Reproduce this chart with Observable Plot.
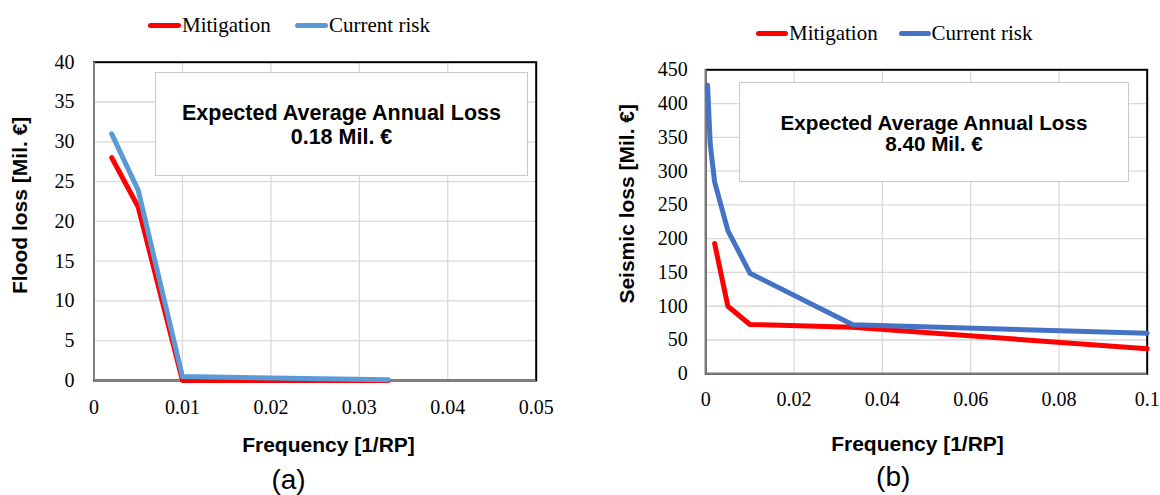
<!DOCTYPE html>
<html>
<head>
<meta charset="utf-8">
<script src="https://cdn.jsdelivr.net/npm/d3@7"></script>
<script src="https://cdn.jsdelivr.net/npm/@observablehq/plot@0.6"></script>
<style>
  body { margin: 0; background: #fff; }
  #root { position: relative; width: 1160px; height: 495px; display: flex; overflow: hidden; background: #fff; }
  .col { position: relative; width: 580px; height: 495px; }
  .legend { position: relative; width: 580px; font-family: "Liberation Serif", "Times New Roman", serif; font-size: 21px; color: #000; }
  .item { position: absolute; display: flex; align-items: center; white-space: nowrap; height: 24px; line-height: 24px; }
  .sw { display: inline-block; height: 5px; border-radius: 3px; margin-right: 1px; }
  .box { position: absolute; background: #fff; border: 1px solid #c9c9c9; font-family: "Liberation Sans", Arial, sans-serif; font-weight: bold; text-align: center; box-sizing: border-box; color: #000; }
  svg { display: block; }
</style>
</head>
<body>
<div id="root">
  <div class="col" id="colA">
    <div class="legend" id="legA" style="height:45px"></div>
  </div>
  <div class="col" id="colB">
    <div class="legend" id="legB" style="height:50px"></div>
  </div>
</div>
<script>
// ---------- data ----------
const seriesNames = ["Mitigation", "Current risk"];

// (a) flood
const floodFreq = [0.002, 0.005, 0.01, 0.0333];
const floodMitigation = [28, 21.8, 0, 0];
const floodCurrent = [31, 23.9, 0.5, 0.1];
const floodXTicks = [0, 0.01, 0.02, 0.03, 0.04, 0.05];
const floodYTicks = [0, 5, 10, 15, 20, 25, 30, 35, 40];
const floodEAL = "0.18 Mil. €";

// (b) seismic
const seismicFreqMitigation = [0.002, 0.005, 0.01, 0.0333, 0.1];
const seismicMitigation = [193, 100, 73, 69, 37];
const seismicFreqCurrent = [0.0004, 0.001, 0.002, 0.005, 0.01, 0.0333, 0.1];
const seismicCurrent = [427, 340, 284, 212, 149, 72.5, 60];
const seismicXTicks = [0, 0.02, 0.04, 0.06, 0.08, 0.1];
const seismicYTicks = [0, 50, 100, 150, 200, 250, 300, 350, 400, 450];
const seismicEAL = "8.40 Mil. €";

const boxTitle = "Expected Average Annual Loss";

// ---------- tables ----------
const floodRows = [
  ...floodFreq.map((f, i) => ({series: seriesNames[0], freq: f, loss: floodMitigation[i]})),
  ...floodFreq.map((f, i) => ({series: seriesNames[1], freq: f, loss: floodCurrent[i]}))
];
const seismicRows = [
  ...seismicFreqMitigation.map((f, i) => ({series: seriesNames[0], freq: f, loss: seismicMitigation[i]})),
  ...seismicFreqCurrent.map((f, i) => ({series: seriesNames[1], freq: f, loss: seismicCurrent[i]}))
];

const SERIF = '"Liberation Serif", "Times New Roman", serif';
const SANS = '"Liberation Sans", Arial, sans-serif';

function makeChart(o) {
  const fw = o.width - o.marginLeft - o.marginRight;
  const frameCx = o.marginLeft + fw / 2;
  return Plot.plot({
    width: o.width,
    height: o.height,
    marginLeft: o.marginLeft,
    marginRight: o.marginRight,
    marginTop: o.marginTop,
    marginBottom: o.marginBottom,
    // serif is inherited by the tick labels (which set no font family of their own)
    style: {background: "transparent", fontFamily: SERIF, fontSize: "20px", color: "#000", overflow: "visible"},
    x: {domain: o.xDomain, axis: null},
    y: {domain: o.yDomain, axis: null},
    color: {domain: seriesNames, range: o.colors},
    marks: [
      Plot.gridX(o.xTicks, {stroke: "#d9d9d9", strokeOpacity: 1, strokeWidth: 1.3}),
      Plot.gridY(o.yTicks, {stroke: "#d9d9d9", strokeOpacity: 1, strokeWidth: 1.3}),
      // tick labels (no tick marks)
      Plot.text(o.xTicks, {x: d => d, text: d => String(d), frameAnchor: "bottom", lineAnchor: "top",
        textAnchor: "middle", dy: o.xPad, fontSize: 20, fill: "#000"}),
      Plot.text(o.yTicks, {y: d => d, text: d => String(d), frameAnchor: "left", lineAnchor: "middle",
        textAnchor: "end", dx: -o.yPad, fontSize: 20, fill: "#000"}),
      Plot.frame({stroke: "#000", strokeWidth: 2}),
      Plot.ruleY([o.yDomain[0]], {stroke: "#808080", strokeWidth: 2}),
      Plot.ruleX([o.xDomain[0]], {stroke: "#808080", strokeWidth: 2}),
      Plot.line(o.rows, {x: "freq", y: "loss", z: "series", stroke: "series", strokeWidth: 5,
        strokeLinejoin: "round", strokeLinecap: "round"}),
      Plot.text([o.yTitle], {frameAnchor: "left", rotate: -90, textAnchor: "middle", lineAnchor: "middle",
        dx: o.yTitleX - o.marginLeft, dy: o.yTitleDy,
        fontSize: 21, fontWeight: "bold", fontFamily: SANS, fill: "#000"}),
      Plot.text([o.xTitle], {frameAnchor: "bottom", textAnchor: "middle", lineAnchor: "middle",
        dx: o.xTitleCx - frameCx, dy: o.xTitleDy,
        fontSize: 21, fontWeight: "bold", fontFamily: SANS, fill: "#000"}),
      Plot.text([o.caption], {frameAnchor: "bottom", textAnchor: "middle", lineAnchor: "top",
        dx: o.capCx - frameCx, dy: o.capDy,
        fontSize: 28, fontFamily: SANS, fill: "#000"})
    ]
  });
}

function legend(el, items) {
  for (const it of items) {
    const d = document.createElement("div");
    d.className = "item";
    d.style.left = it.left + "px";
    d.style.top = it.top + "px";
    const s = document.createElement("span");
    s.className = "sw";
    s.style.width = it.sw + "px";
    s.style.background = it.color;
    d.appendChild(s);
    d.appendChild(document.createTextNode(it.name));
    el.appendChild(d);
  }
}

function box(col, o) {
  const b = document.createElement("div");
  b.className = "box";
  b.style.left = o.left + "px";
  b.style.top = o.top + "px";
  b.style.width = o.width + "px";
  b.style.height = o.height + "px";
  b.style.fontSize = o.fontSize + "px";
  b.style.lineHeight = o.lineHeight + "px";
  b.style.paddingTop = o.pad + "px";
  b.innerHTML = o.lines.map(t => `<div>${t}</div>`).join("");
  col.appendChild(b);
}

// ---------- chart (a) ----------
const colA = document.getElementById("colA");
legend(document.getElementById("legA"), [
  {name: seriesNames[0], color: "#ff0000", left: 148, top: 13, sw: 33},
  {name: seriesNames[1], color: "#5b9bd5", left: 295, top: 13, sw: 33}
]);
colA.appendChild(makeChart({
  width: 580, height: 450,
  marginLeft: 93.5, marginRight: 44.3, marginTop: 16.7, marginBottom: 115,
  xDomain: [0, 0.05], yDomain: [0, 40],
  xTicks: floodXTicks, yTicks: floodYTicks,
  xPad: 19, yPad: 19.5,
  colors: ["#ff0000", "#5b9bd5"],
  rows: floodRows,
  yTitle: "Flood loss [Mil. €]", yTitleX: 20, yTitleDy: -16,
  xTitle: "Frequency [1/RP]", xTitleCx: 328, xTitleDy: 65,
  caption: "(a)", capCx: 288, capDy: 88.5
}));
box(colA, {left: 155, top: 71.7, width: 373, height: 104.3, fontSize: 21.5, lineHeight: 24, pad: 28,
  lines: [boxTitle, floodEAL]});

// ---------- chart (b) ----------
const colB = document.getElementById("colB");
legend(document.getElementById("legB"), [
  {name: seriesNames[0], color: "#ff0000", left: 176, top: 21.3, sw: 32},
  {name: seriesNames[1], color: "#4472c4", left: 318.5, top: 21.3, sw: 32}
]);
colB.appendChild(makeChart({
  width: 580, height: 445,
  marginLeft: 125.3, marginRight: 13.3, marginTop: 19.3, marginBottom: 121.7,
  xDomain: [0, 0.1], yDomain: [0, 450],
  xTicks: seismicXTicks, yTicks: seismicYTicks,
  xPad: 17.5, yPad: 18,
  colors: ["#ff0000", "#4472c4"],
  rows: seismicRows,
  yTitle: "Seismic loss [Mil. €]", yTitleX: 46.7, yTitleDy: -18,
  xTitle: "Frequency [1/RP]", xTitleCx: 337, xTitleDy: 70.5,
  caption: "(b)", capCx: 312.7, capDy: 92.2
}));
box(colB, {left: 159, top: 81.7, width: 390, height: 100, fontSize: 20.7, lineHeight: 21, pad: 29.5,
  lines: [boxTitle, seismicEAL]});
</script>
</body>
</html>
